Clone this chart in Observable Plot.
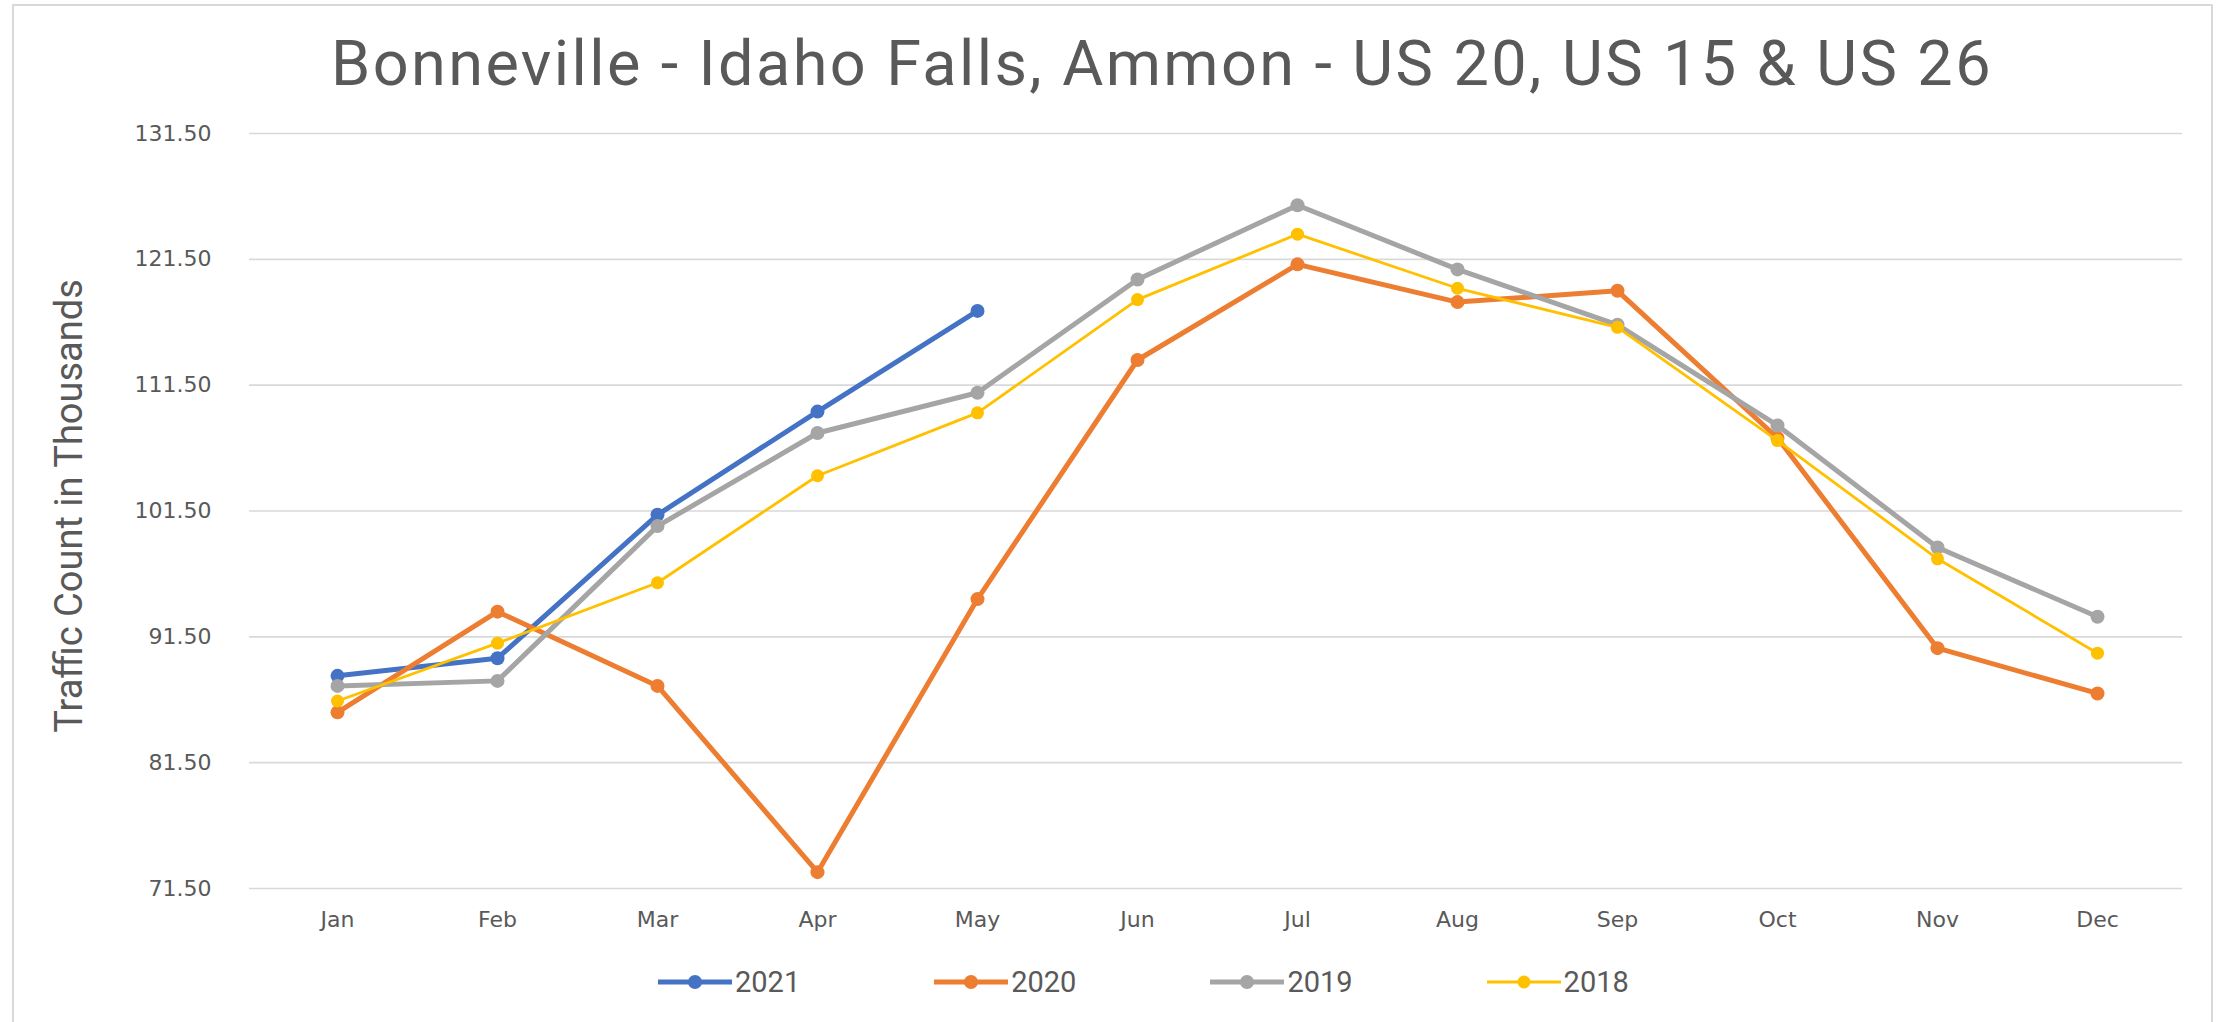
<!DOCTYPE html>
<html>
<head>
<meta charset="utf-8">
<script src="https://cdn.jsdelivr.net/npm/d3@7"></script>
<script src="https://cdn.jsdelivr.net/npm/@observablehq/plot@0.6"></script>
<style>
  html, body { margin: 0; padding: 0; background: #fff; }
  #wrap { position: relative; width: 2229px; height: 1022px; overflow: hidden; background: #fff; }
  #frame { position: absolute; left: 12px; top: 4px; width: 2201px; height: 1040px; border: 2px solid #D9D9D9; box-sizing: border-box; }
  #title { position: absolute; left: 0; width: 2324px; top: 27px; text-align: center; font-family: "Roboto", sans-serif; font-size: 63px; letter-spacing: 2.4px; color: #595959; white-space: nowrap; }
  #chart { position: absolute; left: 0; top: 0; }
  #legend { position: absolute; left: 658px; top: 965px; display: flex; gap: 134px; font-family: "Roboto", sans-serif; font-size: 29px; color: #595959; }
  .item { display: flex; align-items: center; gap: 3px; }
</style>
</head>
<body>
<div id="wrap">
  <div id="frame"></div>
  <div id="chart"></div>
  <div id="title"></div>
  <div id="legend"></div>
</div>
<script>
const titleText = "Bonneville - Idaho Falls, Ammon - US 20, US 15 & US 26";
const yLabel = "Traffic Count in Thousands";
const months = ["Jan", "Feb", "Mar", "Apr", "May", "Jun", "Jul", "Aug", "Sep", "Oct", "Nov", "Dec"];
const yTicks = [71.5, 81.5, 91.5, 101.5, 111.5, 121.5, 131.5];
const seriesNames = ["2021", "2020", "2019", "2018"];
const seriesColors = ["#4472C4", "#ED7D31", "#A5A5A5", "#FFC000"];
const seriesWidths = [5, 5, 5, 2.8];
const seriesRadii = [7, 7, 7, 6.5];
const v2021 = [88.4, 89.8, 101.2, 109.4, 117.4];
const v2020 = [85.5, 93.5, 87.6, 72.8, 94.5, 113.5, 121.1, 118.1, 119.0, 107.3, 90.6, 87.0];
const v2019 = [87.6, 88.0, 100.3, 107.7, 110.9, 119.9, 125.8, 120.7, 116.3, 108.3, 98.6, 93.1];
const v2018 = [86.4, 91.0, 95.8, 104.3, 109.3, 118.3, 123.5, 119.2, 116.1, 107.1, 97.7, 90.2];
const seriesValues = [v2021, v2020, v2019, v2018];

document.getElementById("title").textContent = titleText;

const data = [];
seriesNames.forEach((name, i) => {
  seriesValues[i].forEach((v, j) => data.push({series: name, month: months[j], value: v}));
});

const seriesMarks = [];
seriesNames.forEach((name, i) => {
  const d = data.filter(r => r.series === name);
  seriesMarks.push(Plot.line(d, {x: "month", y: "value", stroke: seriesColors[i], strokeWidth: seriesWidths[i], strokeLinejoin: "round"}));
  seriesMarks.push(Plot.dot(d, {x: "month", y: "value", fill: seriesColors[i], r: seriesRadii[i], stroke: "none"}));
});

const chart = Plot.plot({
  width: 2229,
  height: 1022,
  marginTop: 133,
  marginBottom: 134,
  marginLeft: 257,
  marginRight: 52,
  style: {fontFamily: "DejaVu Sans", fontSize: "22px", color: "#595959", background: "transparent"},
  x: {type: "point", domain: months, padding: 0.5, label: null},
  y: {domain: [71.5, 131.5], label: null},
  marks: [
    Plot.ruleY(yTicks, {stroke: "#D9D9D9", strokeWidth: 1.6, insetLeft: -8, insetRight: -5}),
    Plot.axisY({ticks: yTicks, tickSize: 0, tickPadding: 46, tickFormat: d => d.toFixed(2), fontSize: 22, label: null}),
    Plot.axisX({tickSize: 0, tickPadding: 23, fontSize: 22, label: null}),
    Plot.text([yLabel], {frameAnchor: "left", textAnchor: "middle", dx: -188, dy: -5, rotate: -90, fontSize: 38, fontFamily: "Roboto, sans-serif", fill: "#595959"}),
    ...seriesMarks
  ]
});
document.getElementById("chart").appendChild(chart);

const legend = document.getElementById("legend");
seriesNames.forEach((name, i) => {
  const item = document.createElement("div");
  item.className = "item";
  const sw = d3.create("svg").attr("width", 74).attr("height", 20);
  sw.append("line").attr("x1", 0).attr("x2", 74).attr("y1", 10).attr("y2", 10)
    .attr("stroke", seriesColors[i]).attr("stroke-width", seriesWidths[i]);
  sw.append("circle").attr("cx", 37).attr("cy", 10).attr("r", seriesRadii[i]).attr("fill", seriesColors[i]);
  item.appendChild(sw.node());
  const t = document.createElement("span");
  t.textContent = name;
  item.appendChild(t);
  legend.appendChild(item);
});
</script>
</body>
</html>
